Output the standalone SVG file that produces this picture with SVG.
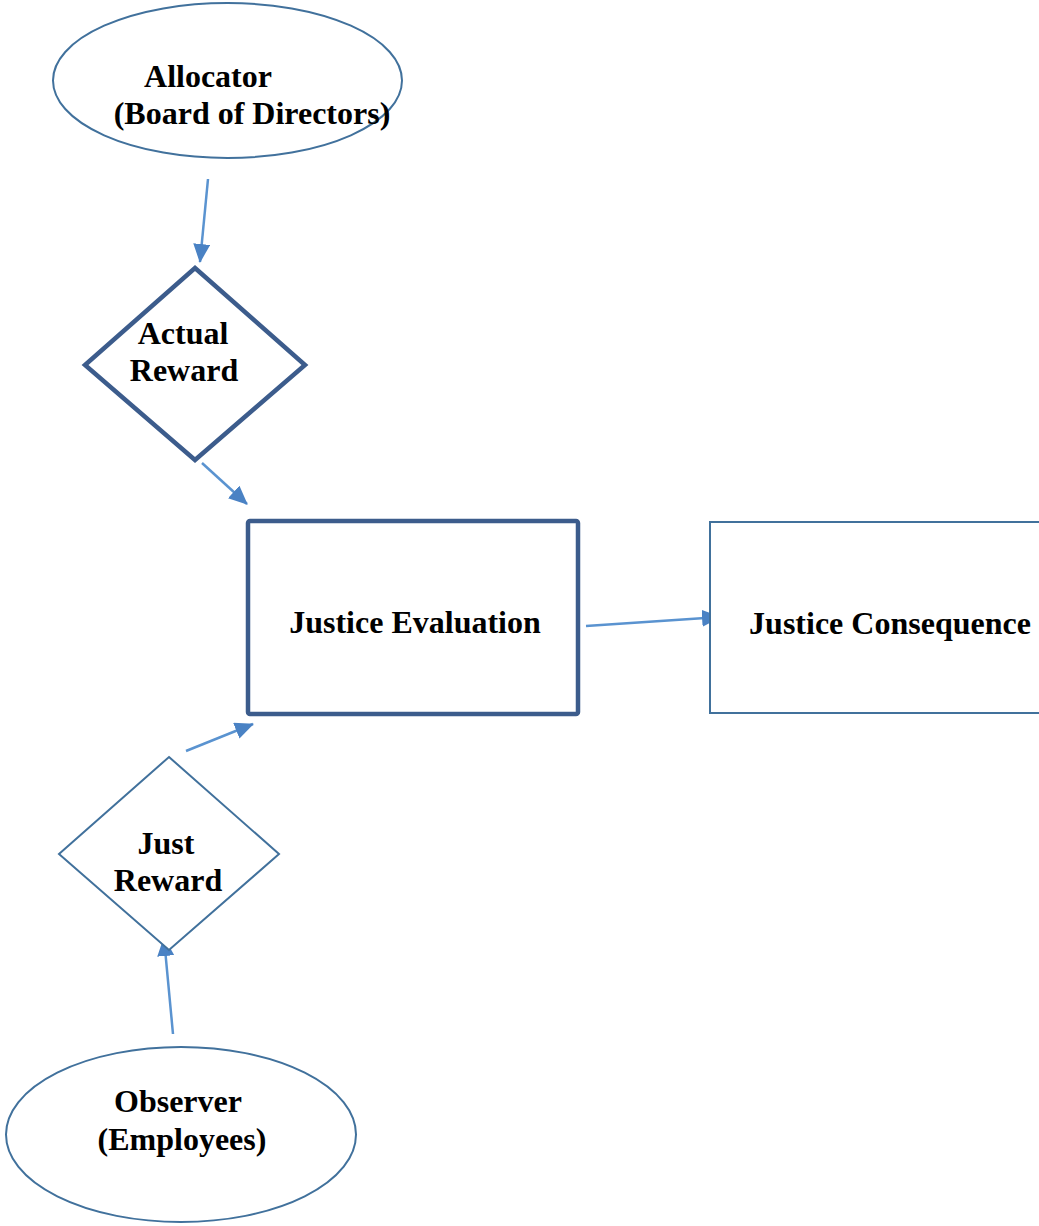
<svg xmlns="http://www.w3.org/2000/svg" width="1039" height="1226" viewBox="0 0 1039 1226">
<style>
text{font-family:"Liberation Serif","Times New Roman",serif;font-weight:bold;font-size:32px;fill:#000;text-anchor:middle}
.thin{fill:#fff;stroke:#41719c;stroke-width:2}
.thick{fill:#fff;stroke:#3c5c8c;stroke-width:4.5}
.conn{stroke:#5a93d0;stroke-width:2.5;fill:none}
</style>
<defs>
<marker id="ah" markerUnits="userSpaceOnUse" markerWidth="19" markerHeight="17" refX="18" refY="8.5" orient="auto">
<path d="M0,0 L19,8.5 L0,17 Z" fill="#4a82c4"/>
</marker>
</defs>
<rect width="1039" height="1226" fill="#fff"/>
<g id="connectors">
<line class="conn" x1="208" y1="179" x2="200" y2="262" marker-end="url(#ah)"/>
<line class="conn" x1="202" y1="463" x2="247" y2="504" marker-end="url(#ah)"/>
<line class="conn" x1="586" y1="626" x2="720" y2="617" marker-end="url(#ah)"/>
<line class="conn" x1="186" y1="751" x2="253" y2="724" marker-end="url(#ah)"/>
<line class="conn" x1="173" y1="1034" x2="164" y2="938" marker-end="url(#ah)"/>
</g>
<g id="allocator">
<ellipse class="thin" cx="227.5" cy="80.5" rx="174.5" ry="77.5"/>
<text x="208" y="87">Allocator</text>
<text x="252" y="124">(Board of Directors)</text>
</g>
<g id="actual-reward">
<polygon class="thick" points="195,268 305,365 195,460 85,365"/>
<text x="183" y="344">Actual</text>
<text x="184" y="381">Reward</text>
</g>
<g id="justice-evaluation">
<rect class="thick" x="248" y="521" width="330" height="193" rx="2"/>
<text x="415" y="633">Justice Evaluation</text>
</g>
<g id="justice-consequence">
<rect class="thin" x="710" y="522" width="340" height="191"/>
<text x="890" y="634">Justice Consequence</text>
</g>
<g id="just-reward">
<polygon class="thin" points="169,757 279,854 169,950 59,854"/>
<text x="166" y="854">Just</text>
<text x="168" y="891">Reward</text>
</g>
<g id="observer">
<ellipse class="thin" cx="181" cy="1134.5" rx="175" ry="87.5"/>
<text x="178" y="1112">Observer</text>
<text x="182" y="1150">(Employees)</text>
</g>
</svg>
